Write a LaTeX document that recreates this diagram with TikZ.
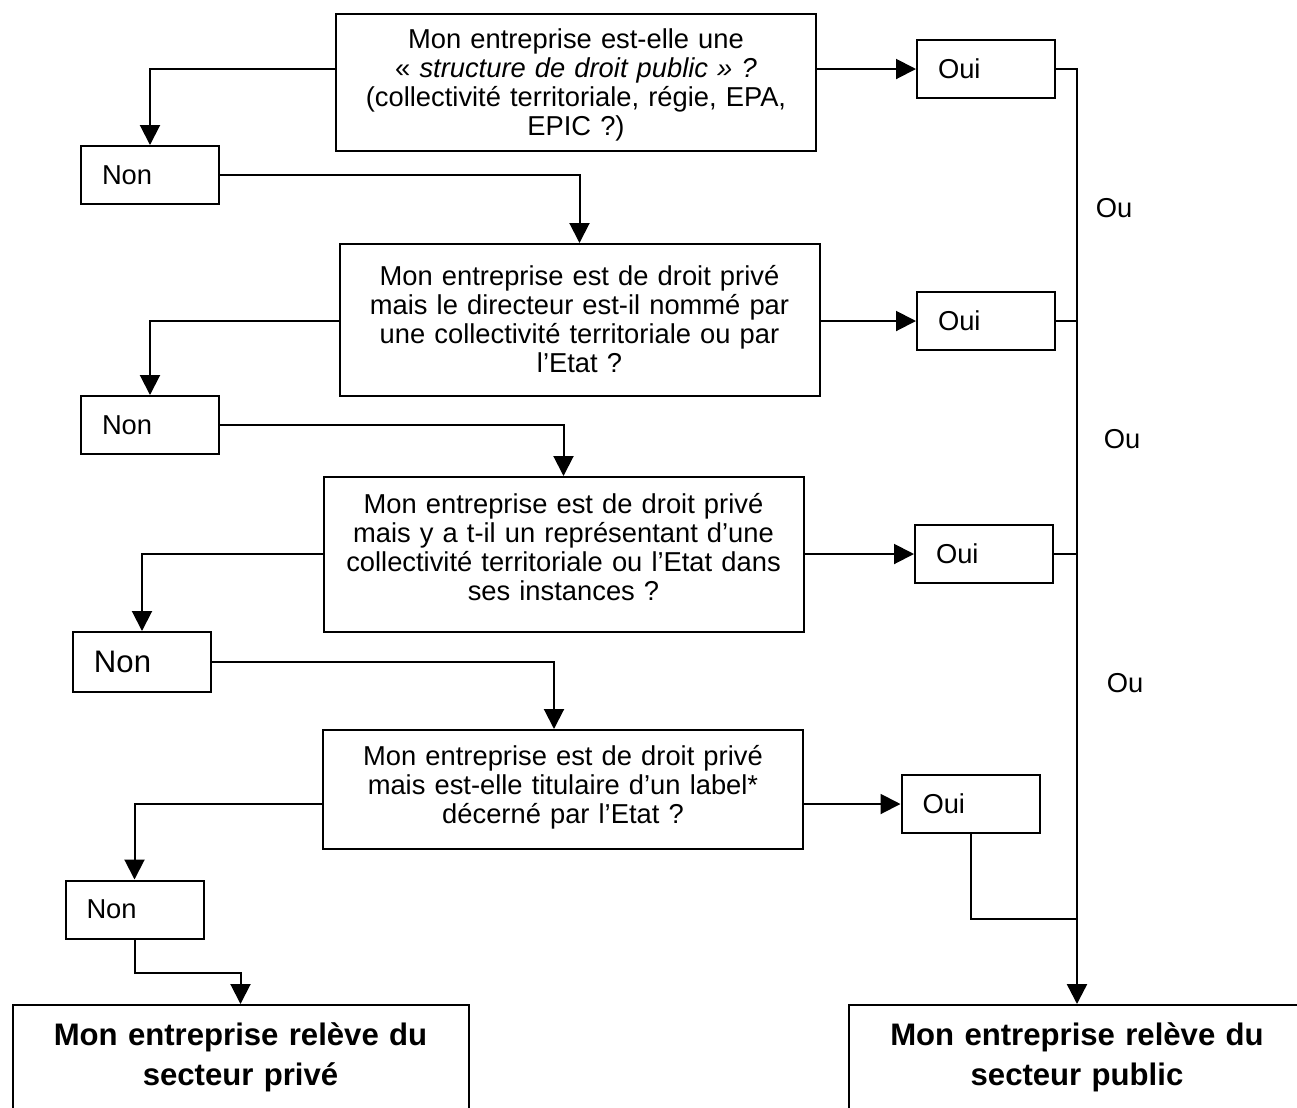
\documentclass[tikz,border=0pt]{standalone}
\usepackage{fontspec}
\setmainfont{Liberation Sans}
\usetikzlibrary{arrows.meta}
\tikzset{>={Triangle[length=9pt,width=9pt]}}
\newcommand{\upx}{0.45pt}
\tikzset{
  qbox/.style={draw, line width=0.9pt, anchor=north, minimum width=480*\upx,
    text width=470*\upx, align=center, inner sep=0pt,
    font=\fontsize{12.3}{13}\selectfont},
  rbox/.style={draw, line width=0.9pt, minimum width=138*\upx, minimum height=58*\upx,
    text width=96*\upx, inner xsep=21*\upx, inner ysep=0pt, align=left,
    font=\fontsize{12.3}{13}\selectfont},
  endbox/.style={draw, line width=0.9pt, anchor=north, minimum width=456*\upx,
    text width=440*\upx, align=center, inner ysep=18*\upx, text depth=40pt,
    font=\bfseries\fontsize{14}{18}\selectfont},
  link/.style={line width=0.9pt},
  arr/.style={link, ->},
  ou/.style={font=\fontsize{12.3}{13}\selectfont}
}

\begin{document}
\begin{tikzpicture}[x=0.45pt, y=-0.45pt]
  \useasboundingbox (0,0) rectangle (1297,1107);
  \clip (0,0) rectangle (1297,1107);

  % 问题框
  \node[qbox, text height=34.5*\upx, text depth=102.5*\upx] (q1) at (576,13)
    {Mon entreprise est-elle une\\ « \textit{structure de droit public » ?}\\
     (collectivité territoriale, régie, EPA,\\ EPIC ?)};
  \node[qbox, text height=41.5*\upx, text depth=110.5*\upx] (q2) at (579.5,243)
    {Mon entreprise est de droit privé\\ mais le directeur est-il nommé par\\
     une collectivité territoriale ou par\\ l’Etat ?};
  \node[qbox, text height=36.5*\upx, text depth=118.5*\upx] (q3) at (563.5,476)
    {Mon entreprise est de droit privé\\ mais y a t-il un représentant d’une\\
     collectivité territoriale ou l’Etat dans\\ ses instances ?};
  \node[qbox, text height=35.5*\upx, text depth=83.5*\upx] (q4) at (563,729)
    {Mon entreprise est de droit privé\\ mais est-elle titulaire d’un label*\\
     décerné par l’Etat ?};

  % 回答框
  \node[rbox] (oui1) at (986,69) {Oui};
  \node[rbox] (oui2) at (986,321) {Oui};
  \node[rbox] (oui3) at (984,554) {Oui};
  \node[rbox] (oui4) at (970.5,804) {Oui};
  \node[rbox] (non1) at (150,175) {Non};
  \node[rbox] (non2) at (150,425) {Non};
  \node[rbox, minimum height=60*\upx, font=\fontsize{14}{16}\selectfont] (non3) at (142,662) {Non};
  \node[rbox] (non4) at (134.5,909.5) {Non};

  % 结论框
  \node[endbox] (priv) at (240.5,1004) {Mon entreprise relève du\\ secteur privé};
  \node[endbox] (pub) at (1077,1004) {Mon entreprise relève du\\ secteur public};

  \node[ou] (ou1) at (1114,208) {Ou};
  \node[ou] (ou2) at (1122,439) {Ou};
  \node[ou] (ou3) at (1125,683) {Ou};

  % 连线
  \draw[arr] (q1.east |- oui1.west) -- (oui1.west);
  \draw[arr] (q2.east |- oui2.west) -- (oui2.west);
  \draw[arr] (q3.east |- oui3.west) -- (oui3.west);
  \draw[arr] (q4.east |- oui4.west) -- (oui4.west);

  \draw[arr] (q1.west |- oui1.west) -| (non1.north);
  \draw[arr] (q2.west |- oui2.west) -| (non2.north);
  \draw[arr] (q3.west |- oui3.west) -| (non3.north);
  \draw[arr] (q4.west |- oui4.west) -| (non4.north);

  \draw[arr] (non1.east) -| (q2.north);
  \draw[arr] (non2.east) -| (q3.north);
  \draw[arr] (non3.east) -| ([xshift=-9*\upx]q4.north);
  \draw[arr] (non4.south) -- ++(0,33) -| (priv.north);

  \coordinate (j4) at (0,919);
  \draw[arr, line width=1.1pt] (oui1.east) -| (pub.north);
  \draw[link] (oui2.east) -- (oui2.east -| pub.north);
  \draw[link] (oui3.east) -- (oui3.east -| pub.north);
  \draw[link] (oui4.south) |- (pub.north |- j4);
\end{tikzpicture}
\end{document}
